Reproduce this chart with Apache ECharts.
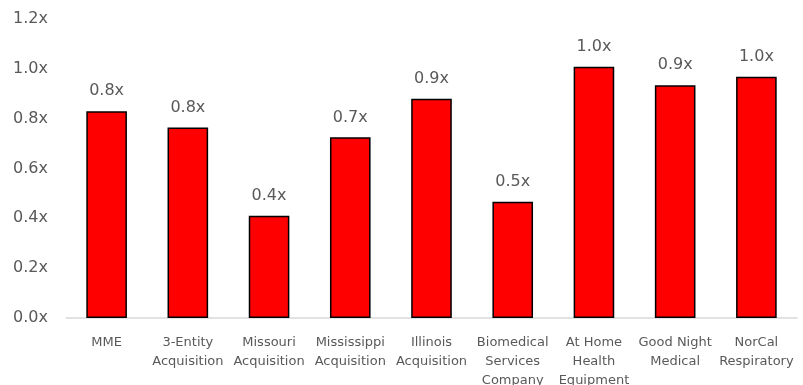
<!DOCTYPE html>
<html lang="en">
<head>
<meta charset="UTF-8">
<title>Multiples</title>
<script src="https://cdn.jsdelivr.net/npm/echarts@6/dist/echarts.min.js"></script>
<style>
html, body { margin: 0; padding: 0; background: #fff; }
#chart { width: 803px; height: 385px; }
</style>
</head>
<body>
<div id="chart"></div>
<script>
// categories (line breaks as shown under the axis)
const categories = [
  'MME',
  '3-Entity\nAcquisition',
  'Missouri\nAcquisition',
  'Mississippi\nAcquisition',
  'Illinois\nAcquisition',
  'Biomedical\nServices\nCompany',
  'At Home\nHealth\nEquipment',
  'Good Night\nMedical',
  'NorCal\nRespiratory'
];
// multiple values
const multiples = [0.83, 0.765, 0.41, 0.725, 0.88, 0.467, 1.008, 0.934, 0.968];
const yTicks = { min: 0, max: 1.2, interval: 0.2 };

const FONT = 'DejaVu Sans';
const chart = echarts.init(document.getElementById('chart'));
chart.setOption({
  animation: false,
  grid: { left: 66, right: 6, top: 19, bottom: 67, outerBoundsMode: 'none' },
  xAxis: {
    type: 'category',
    data: categories,
    axisLine: { lineStyle: { color: '#d9d9d9', width: 1.5 } },
    axisTick: { show: false },
    axisLabel: {
      interval: 0,
      color: '#595959',
      fontFamily: FONT,
      fontSize: 13,
      lineHeight: 19,
      margin: 15
    }
  },
  yAxis: {
    type: 'value',
    min: yTicks.min,
    max: yTicks.max,
    interval: yTicks.interval,
    splitLine: { show: false },
    axisLine: { show: false },
    axisTick: { show: false },
    axisLabel: {
      color: '#595959',
      fontFamily: FONT,
      fontSize: 16,
      margin: 18,
      formatter: v => v.toFixed(1) + 'x'
    }
  },
  series: [{
    type: 'bar',
    data: multiples,
    barWidth: '50%',
    itemStyle: { color: '#ff0000', borderColor: '#000', borderWidth: 1.5 },
    label: {
      show: true,
      position: 'top',
      distance: 12,
      color: '#595959',
      fontFamily: FONT,
      fontSize: 16,
      formatter: p => p.value.toFixed(1) + 'x'
    }
  }]
});
</script>
</body>
</html>
